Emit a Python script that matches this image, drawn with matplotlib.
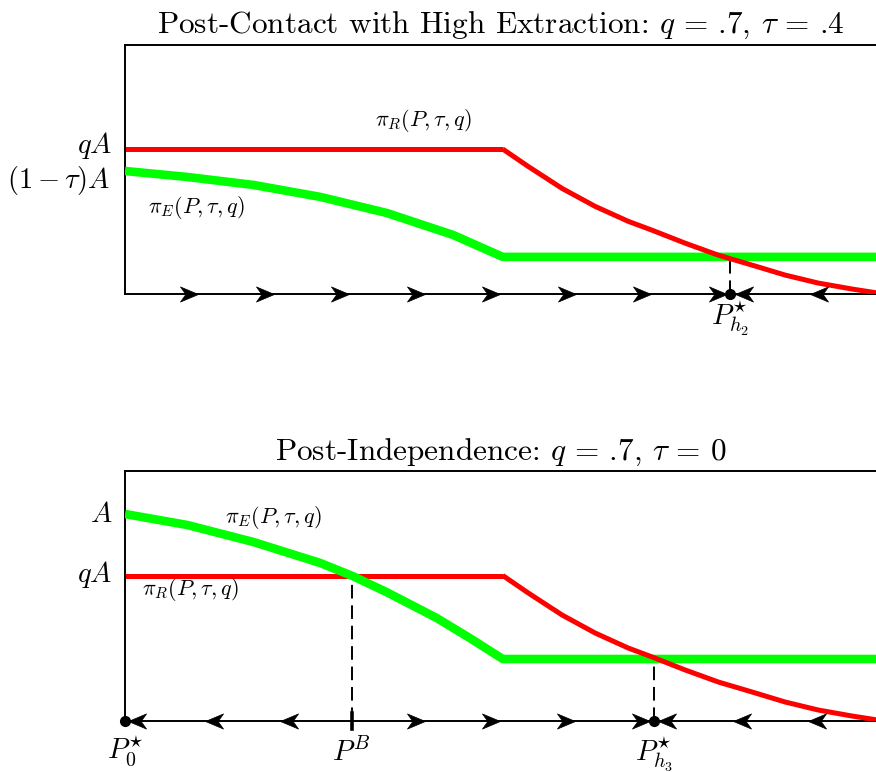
import matplotlib
matplotlib.use('Agg')
import matplotlib.pyplot as plt
from matplotlib.path import Path

# fonts: computer modern look
plt.rcParams['font.family'] = 'serif'
plt.rcParams['font.serif'] = ['cmr10']
plt.rcParams['mathtext.fontset'] = 'cm'
plt.rcParams['axes.unicode_minus'] = False

RED = '#ff0000'
GREEN = '#00ff00'

# red payoff pi_R (same in both panels)
red_P = [0.0, 0.503, 0.537, 0.582, 0.626, 0.670, 0.702, 0.746, 0.790,
         0.835, 0.879, 0.923, 0.968, 1.0]
red_val = [0.582, 0.582, 0.512, 0.424, 0.352, 0.292, 0.256, 0.204, 0.156,
           0.116, 0.076, 0.044, 0.020, 0.005]

# green payoff pi_E, top panel (tau = .4)
green_top_P = [0.0, 0.083, 0.171, 0.260, 0.349, 0.437, 0.503, 1.0]
green_top_val = [0.494, 0.470, 0.438, 0.390, 0.325, 0.237, 0.149, 0.149]

# green payoff pi_E, bottom panel (tau = 0)
green_bot_P = [0.0, 0.083, 0.171, 0.260, 0.303, 0.348, 0.415, 0.459, 0.503, 1.0]
green_bot_val = [0.828, 0.784, 0.716, 0.632, 0.580, 0.516, 0.412, 0.332, 0.248, 0.248]

# arrow tips on the P axis
top_right_arrows = [0.097, 0.198, 0.298, 0.399, 0.499, 0.600, 0.701, 0.801]
top_left_arrows = [0.812, 0.912]
bot_right_arrows = [0.399, 0.499, 0.599, 0.699]
bot_left_arrows = [0.004, 0.107, 0.206, 0.710, 0.810, 0.909]

# equilibria / thresholds
top_eq = [0.806]
top_eq_val = [0.149]
top_eq_labels = [r'$P^{\star}_{h_2}$']
bot_points = [0.0, 0.302, 0.704]
bot_points_val = [0.0, 0.580, 0.248]
bot_points_labels = [r'$P^{\star}_{0}$', r'$P^{B}$', r'$P^{\star}_{h_3}$']

titles = [r'Post-Contact with High Extraction: $q\,=\,$.7, $\tau\,=\,$.4',
          r'Post-Independence: $q\,=\,$.7, $\tau\,=\,0$']

TITLE_FS = 22.5
LABEL_FS = 20.5
PI_FS = 16


def arrow_marker(right=True):
    s = 1 if right else -1
    verts = [(0, 0), (-s * 1.0, 0.42), (-s * 0.7, 0), (-s * 1.0, -0.42), (0, 0)]
    codes = [Path.MOVETO, Path.LINETO, Path.LINETO, Path.LINETO, Path.CLOSEPOLY]
    return Path(verts, codes)


def setup(ax):
    ax.set_xlim(0, 1)
    ax.set_ylim(0, 1)
    ax.set_xticks([])
    ax.set_yticks([])
    ax.spines['right'].set_visible(False)
    for s in ['left', 'top', 'bottom']:
        ax.spines[s].set_linewidth(1.4)


def draw_arrows(ax, rights, lefts):
    ax.plot(rights, [0] * len(rights), ls='none', marker=arrow_marker(True),
            ms=26, color='k', mew=0.5, clip_on=False, zorder=6)
    ax.plot(lefts, [0] * len(lefts), ls='none', marker=arrow_marker(False),
            ms=26, color='k', mew=0.5, clip_on=False, zorder=6)


def draw_curves(ax, g_P, g_val):
    kw = dict(solid_capstyle='butt', solid_joinstyle='round')
    ax.plot(red_P[:2], red_val[:2], color=RED, lw=3.6, zorder=2, **kw)
    ax.plot(g_P, g_val, color=GREEN, lw=6.2, zorder=3, **kw)
    ax.plot(red_P[1:], red_val[1:], color=RED, lw=3.6, zorder=4, **kw)


fig = plt.figure(figsize=(8.76, 7.72), dpi=100)
ax1 = fig.add_axes([125 / 876, 1 - 294 / 772, 751 / 876, 249 / 772])
ax2 = fig.add_axes([125 / 876, 1 - 721 / 772, 751 / 876, 250 / 772])

# ---- top panel
setup(ax1)
draw_curves(ax1, green_top_P, green_top_val)
for x, y in zip(top_eq, top_eq_val):
    ax1.plot([x, x], [0, y], color='k', lw=1.4, ls=(0, (7, 3.5)), zorder=1)
ax1.plot(top_eq, [0] * len(top_eq), 'o', ms=7, color='k', clip_on=False, zorder=7)
draw_arrows(ax1, top_right_arrows, top_left_arrows)
ax1.set_title(titles[0], fontsize=TITLE_FS, pad=9)

ax1.text(-0.017, 0.566, r'$qA$', ha='right', va='baseline', fontsize=LABEL_FS)
ax1.text(-0.019, 0.426, r'$(1-\tau)A$', ha='right', va='baseline', fontsize=LABEL_FS)
ax1.text(0.333, 0.675, r'$\pi_R(P,\tau,q)$', ha='left', va='baseline', fontsize=PI_FS)
ax1.text(0.031, 0.325, r'$\pi_E(P,\tau,q)$', ha='left', va='baseline', fontsize=PI_FS)
for x, lab in zip(top_eq, top_eq_labels):
    ax1.annotate(lab, xy=(x, 0), xytext=(0, -4), textcoords='offset points',
                 ha='center', va='top', fontsize=LABEL_FS)

# ---- bottom panel
setup(ax2)
draw_curves(ax2, green_bot_P, green_bot_val)
for x, y in zip(bot_points[1:], bot_points_val[1:]):
    ax2.plot([x, x], [0, y], color='k', lw=1.4, ls=(0, (7, 3.5)), zorder=1)
ax2.plot([bot_points[1]] * 2, [-0.032, 0.032], color='k', lw=2.6, clip_on=False, zorder=5)
ax2.plot([bot_points[0], bot_points[2]], [0, 0], 'o', ms=7, color='k', clip_on=False, zorder=7)
draw_arrows(ax2, bot_right_arrows, bot_left_arrows)
ax2.set_title(titles[1], fontsize=TITLE_FS, pad=8)

ax2.text(-0.017, 0.796, r'$A$', ha='right', va='baseline', fontsize=LABEL_FS)
ax2.text(-0.017, 0.556, r'$qA$', ha='right', va='baseline', fontsize=LABEL_FS)
ax2.text(0.133, 0.792, r'$\pi_E(P,\tau,q)$', ha='left', va='baseline', fontsize=PI_FS)
ax2.text(0.023, 0.504, r'$\pi_R(P,\tau,q)$', ha='left', va='baseline', fontsize=PI_FS)
offsets = [-10, -12, -10]
for x, lab, off in zip(bot_points, bot_points_labels, offsets):
    ax2.annotate(lab, xy=(x, 0), xytext=(0, off), textcoords='offset points',
                 ha='center', va='top', fontsize=LABEL_FS)

fig.savefig('out.png', dpi=100)
